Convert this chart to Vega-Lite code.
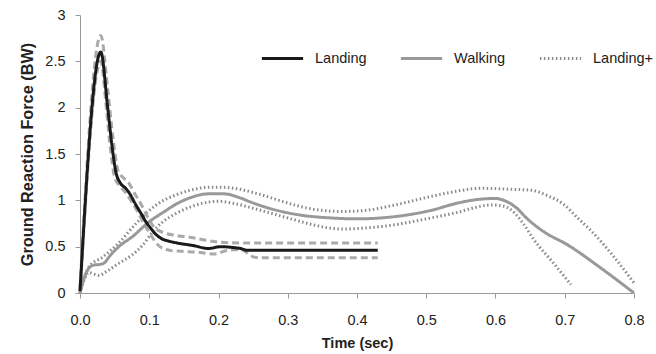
{
  "$schema": "https://vega.github.io/schema/vega-lite/v6.json",
  "width": 554,
  "height": 278,
  "autosize": {"type": "none"},
  "padding": {"left": 80, "top": 15, "right": 22, "bottom": 61},
  "background": "white",
  "config": {
    "view": {"stroke": null},
    "font": "Liberation Sans",
    "axis": {"domainColor": "#9a9a9a", "tickColor": "#9a9a9a", "grid": false, "labelColor": "#222", "labelFontSize": 14.5, "titleFontSize": 14.5, "titleFontWeight": "bold", "titleColor": "#222", "labelFont": "Liberation Sans", "titleFont": "Liberation Sans"}
  },
  "data": {"values": [
    {"t":0,"f":0.03,"line":"W+","style":"Landing+"},{"t":0.013,"f":0.28,"line":"W+","style":"Landing+"},{"t":0.033,"f":0.39,"line":"W+","style":"Landing+"},{"t":0.056,"f":0.54,"line":"W+","style":"Landing+"},{"t":0.081,"f":0.75,"line":"W+","style":"Landing+"},{"t":0.11,"f":0.95,"line":"W+","style":"Landing+"},{"t":0.139,"f":1.06,"line":"W+","style":"Landing+"},{"t":0.16,"f":1.11,"line":"W+","style":"Landing+"},{"t":0.185,"f":1.14,"line":"W+","style":"Landing+"},{"t":0.208,"f":1.14,"line":"W+","style":"Landing+"},{"t":0.23,"f":1.12,"line":"W+","style":"Landing+"},{"t":0.257,"f":1.07,"line":"W+","style":"Landing+"},{"t":0.305,"f":0.96,"line":"W+","style":"Landing+"},{"t":0.34,"f":0.9,"line":"W+","style":"Landing+"},{"t":0.377,"f":0.88,"line":"W+","style":"Landing+"},{"t":0.41,"f":0.89,"line":"W+","style":"Landing+"},{"t":0.449,"f":0.94,"line":"W+","style":"Landing+"},{"t":0.5,"f":1.03,"line":"W+","style":"Landing+"},{"t":0.545,"f":1.1,"line":"W+","style":"Landing+"},{"t":0.579,"f":1.13,"line":"W+","style":"Landing+"},{"t":0.62,"f":1.12,"line":"W+","style":"Landing+"},{"t":0.651,"f":1.11,"line":"W+","style":"Landing+"},{"t":0.675,"f":1.05,"line":"W+","style":"Landing+"},{"t":0.698,"f":0.96,"line":"W+","style":"Landing+"},{"t":0.72,"f":0.8,"line":"W+","style":"Landing+"},{"t":0.737,"f":0.68,"line":"W+","style":"Landing+"},{"t":0.771,"f":0.39,"line":"W+","style":"Landing+"},{"t":0.8,"f":0.11,"line":"W+","style":"Landing+"},
    {"t":0,"f":0,"line":"W-","style":"Landing+"},{"t":0.013,"f":0.22,"line":"W-","style":"Landing+"},{"t":0.027,"f":0.19,"line":"W-","style":"Landing+"},{"t":0.04,"f":0.24,"line":"W-","style":"Landing+"},{"t":0.056,"f":0.32,"line":"W-","style":"Landing+"},{"t":0.075,"f":0.41,"line":"W-","style":"Landing+"},{"t":0.091,"f":0.52,"line":"W-","style":"Landing+"},{"t":0.105,"f":0.66,"line":"W-","style":"Landing+"},{"t":0.12,"f":0.77,"line":"W-","style":"Landing+"},{"t":0.139,"f":0.86,"line":"W-","style":"Landing+"},{"t":0.16,"f":0.93,"line":"W-","style":"Landing+"},{"t":0.185,"f":0.98,"line":"W-","style":"Landing+"},{"t":0.199,"f":0.99,"line":"W-","style":"Landing+"},{"t":0.22,"f":0.97,"line":"W-","style":"Landing+"},{"t":0.257,"f":0.9,"line":"W-","style":"Landing+"},{"t":0.305,"f":0.8,"line":"W-","style":"Landing+"},{"t":0.34,"f":0.73,"line":"W-","style":"Landing+"},{"t":0.377,"f":0.69,"line":"W-","style":"Landing+"},{"t":0.41,"f":0.7,"line":"W-","style":"Landing+"},{"t":0.449,"f":0.73,"line":"W-","style":"Landing+"},{"t":0.5,"f":0.8,"line":"W-","style":"Landing+"},{"t":0.545,"f":0.87,"line":"W-","style":"Landing+"},{"t":0.575,"f":0.93,"line":"W-","style":"Landing+"},{"t":0.593,"f":0.95,"line":"W-","style":"Landing+"},{"t":0.61,"f":0.94,"line":"W-","style":"Landing+"},{"t":0.622,"f":0.9,"line":"W-","style":"Landing+"},{"t":0.64,"f":0.75,"line":"W-","style":"Landing+"},{"t":0.655,"f":0.58,"line":"W-","style":"Landing+"},{"t":0.684,"f":0.32,"line":"W-","style":"Landing+"},{"t":0.709,"f":0.09,"line":"W-","style":"Landing+"},
    {"t":0,"f":0.05,"line":"L+","style":"SD"},{"t":0.03,"f":2.78,"line":"L+","style":"SD"},{"t":0.04,"f":2.2,"line":"L+","style":"SD"},{"t":0.048,"f":1.65,"line":"L+","style":"SD"},{"t":0.055,"f":1.32,"line":"L+","style":"SD"},{"t":0.063,"f":1.24,"line":"L+","style":"SD"},{"t":0.071,"f":1.18,"line":"L+","style":"SD"},{"t":0.08,"f":1.06,"line":"L+","style":"SD"},{"t":0.088,"f":0.96,"line":"L+","style":"SD"},{"t":0.097,"f":0.83,"line":"L+","style":"SD"},{"t":0.107,"f":0.71,"line":"L+","style":"SD"},{"t":0.121,"f":0.65,"line":"L+","style":"SD"},{"t":0.14,"f":0.62,"line":"L+","style":"SD"},{"t":0.16,"f":0.6,"line":"L+","style":"SD"},{"t":0.199,"f":0.55,"line":"L+","style":"SD"},{"t":0.232,"f":0.54,"line":"L+","style":"SD"},{"t":0.43,"f":0.54,"line":"L+","style":"SD"},
    {"t":0,"f":0,"line":"L-","style":"SD"},{"t":0.03,"f":2.5,"line":"L-","style":"SD"},{"t":0.038,"f":2.0,"line":"L-","style":"SD"},{"t":0.044,"f":1.55,"line":"L-","style":"SD"},{"t":0.05,"f":1.25,"line":"L-","style":"SD"},{"t":0.058,"f":1.15,"line":"L-","style":"SD"},{"t":0.066,"f":1.08,"line":"L-","style":"SD"},{"t":0.075,"f":0.98,"line":"L-","style":"SD"},{"t":0.083,"f":0.88,"line":"L-","style":"SD"},{"t":0.093,"f":0.74,"line":"L-","style":"SD"},{"t":0.102,"f":0.63,"line":"L-","style":"SD"},{"t":0.11,"f":0.54,"line":"L-","style":"SD"},{"t":0.117,"f":0.49,"line":"L-","style":"SD"},{"t":0.13,"f":0.46,"line":"L-","style":"SD"},{"t":0.146,"f":0.45,"line":"L-","style":"SD"},{"t":0.17,"f":0.44,"line":"L-","style":"SD"},{"t":0.193,"f":0.42,"line":"L-","style":"SD"},{"t":0.213,"f":0.46,"line":"L-","style":"SD"},{"t":0.232,"f":0.47,"line":"L-","style":"SD"},{"t":0.242,"f":0.43,"line":"L-","style":"SD"},{"t":0.25,"f":0.39,"line":"L-","style":"SD"},{"t":0.26,"f":0.38,"line":"L-","style":"SD"},{"t":0.43,"f":0.38,"line":"L-","style":"SD"},
    {"t":0,"f":0,"line":"W","style":"Walking"},{"t":0.009,"f":0.22,"line":"W","style":"Walking"},{"t":0.019,"f":0.3,"line":"W","style":"Walking"},{"t":0.03,"f":0.31,"line":"W","style":"Walking"},{"t":0.036,"f":0.33,"line":"W","style":"Walking"},{"t":0.042,"f":0.39,"line":"W","style":"Walking"},{"t":0.056,"f":0.5,"line":"W","style":"Walking"},{"t":0.076,"f":0.61,"line":"W","style":"Walking"},{"t":0.1,"f":0.77,"line":"W","style":"Walking"},{"t":0.12,"f":0.87,"line":"W","style":"Walking"},{"t":0.139,"f":0.96,"line":"W","style":"Walking"},{"t":0.16,"f":1.03,"line":"W","style":"Walking"},{"t":0.185,"f":1.07,"line":"W","style":"Walking"},{"t":0.208,"f":1.07,"line":"W","style":"Walking"},{"t":0.23,"f":1.03,"line":"W","style":"Walking"},{"t":0.247,"f":0.98,"line":"W","style":"Walking"},{"t":0.28,"f":0.9,"line":"W","style":"Walking"},{"t":0.319,"f":0.84,"line":"W","style":"Walking"},{"t":0.362,"f":0.81,"line":"W","style":"Walking"},{"t":0.401,"f":0.8,"line":"W","style":"Walking"},{"t":0.449,"f":0.82,"line":"W","style":"Walking"},{"t":0.506,"f":0.89,"line":"W","style":"Walking"},{"t":0.545,"f":0.97,"line":"W","style":"Walking"},{"t":0.575,"f":1.01,"line":"W","style":"Walking"},{"t":0.6,"f":1.02,"line":"W","style":"Walking"},{"t":0.612,"f":1.0,"line":"W","style":"Walking"},{"t":0.63,"f":0.92,"line":"W","style":"Walking"},{"t":0.646,"f":0.8,"line":"W","style":"Walking"},{"t":0.67,"f":0.66,"line":"W","style":"Walking"},{"t":0.704,"f":0.52,"line":"W","style":"Walking"},{"t":0.752,"f":0.27,"line":"W","style":"Walking"},{"t":0.8,"f":0.0,"line":"W","style":"Walking"},
    {"t":0,"f":0.02,"line":"L","style":"Landing"},{"t":0.03,"f":2.6,"line":"L","style":"Landing"},{"t":0.04,"f":2.0,"line":"L","style":"Landing"},{"t":0.046,"f":1.6,"line":"L","style":"Landing"},{"t":0.052,"f":1.3,"line":"L","style":"Landing"},{"t":0.058,"f":1.19,"line":"L","style":"Landing"},{"t":0.066,"f":1.13,"line":"L","style":"Landing"},{"t":0.072,"f":1.07,"line":"L","style":"Landing"},{"t":0.08,"f":0.96,"line":"L","style":"Landing"},{"t":0.088,"f":0.86,"line":"L","style":"Landing"},{"t":0.095,"f":0.77,"line":"L","style":"Landing"},{"t":0.102,"f":0.7,"line":"L","style":"Landing"},{"t":0.11,"f":0.63,"line":"L","style":"Landing"},{"t":0.117,"f":0.59,"line":"L","style":"Landing"},{"t":0.128,"f":0.56,"line":"L","style":"Landing"},{"t":0.14,"f":0.54,"line":"L","style":"Landing"},{"t":0.165,"f":0.51,"line":"L","style":"Landing"},{"t":0.185,"f":0.48,"line":"L","style":"Landing"},{"t":0.203,"f":0.5,"line":"L","style":"Landing"},{"t":0.222,"f":0.49,"line":"L","style":"Landing"},{"t":0.232,"f":0.48,"line":"L","style":"Landing"},{"t":0.242,"f":0.46,"line":"L","style":"Landing"},{"t":0.43,"f":0.46,"line":"L","style":"Landing"}
  ]},
  "mark": {"type": "line", "interpolate": "monotone", "clip": false},
  "encoding": {
    "x": {"field": "t", "type": "quantitative", "scale": {"domain": [0, 0.8], "nice": false, "zero": false}, "axis": {"values": [0,0.1,0.2,0.3,0.4,0.5,0.6,0.7,0.8], "format": ".1f", "title": "Time (sec)", "tickSize": 5, "labelPadding": 15, "titlePadding": 10, "labelFlush": false}},
    "y": {"field": "f", "type": "quantitative", "scale": {"domain": [0, 3], "nice": false}, "axis": {"values": [0,0.5,1,1.5,2,2.5,3], "format": "~g", "title": "Ground Reaction Force (BW)", "titleFontSize": 16.3, "tickSize": 5, "labelPadding": 10, "titlePadding": 9, "labelFlush": false}},
    "detail": {"field": "line"},
    "color": {"field": "style", "type": "nominal", "scale": {"domain": ["Landing", "Walking", "Landing+", "SD"], "range": ["#1a1a1a", "#999999", "#8a8a8a", "#aaaaaa"]}, "legend": {"values": ["Landing", "Walking", "Landing+"], "title": null, "orient": "none", "legendX": 180, "legendY": 21, "direction": "horizontal", "symbolType": "stroke", "symbolSize": 1700, "labelFontSize": 14.5, "labelColor": "#222", "labelOffset": 10, "columnPadding": 27, "labelFont": "Liberation Sans"}},
    "strokeDash": {"field": "style", "type": "nominal", "scale": {"domain": ["Landing", "Walking", "Landing+", "SD"], "range": [[1, 0], [1, 0], [1.5, 2.5], [7, 4]]}, "legend": {"values": ["Landing", "Walking", "Landing+"], "title": null, "orient": "none", "legendX": 180, "legendY": 21, "direction": "horizontal", "symbolType": "stroke", "symbolSize": 1700, "labelFontSize": 14.5, "labelColor": "#222", "labelOffset": 10, "columnPadding": 27, "labelFont": "Liberation Sans"}},
    "strokeWidth": {"field": "style", "type": "nominal", "scale": {"domain": ["Landing", "Walking", "Landing+", "SD"], "range": [3, 3, 1.5, 1.8]}, "legend": {"values": ["Landing", "Walking", "Landing+"], "title": null, "orient": "none", "legendX": 180, "legendY": 21, "direction": "horizontal", "symbolType": "stroke", "symbolSize": 1700, "labelFontSize": 14.5, "labelColor": "#222", "labelOffset": 10, "columnPadding": 27, "labelFont": "Liberation Sans"}}
  }
}
